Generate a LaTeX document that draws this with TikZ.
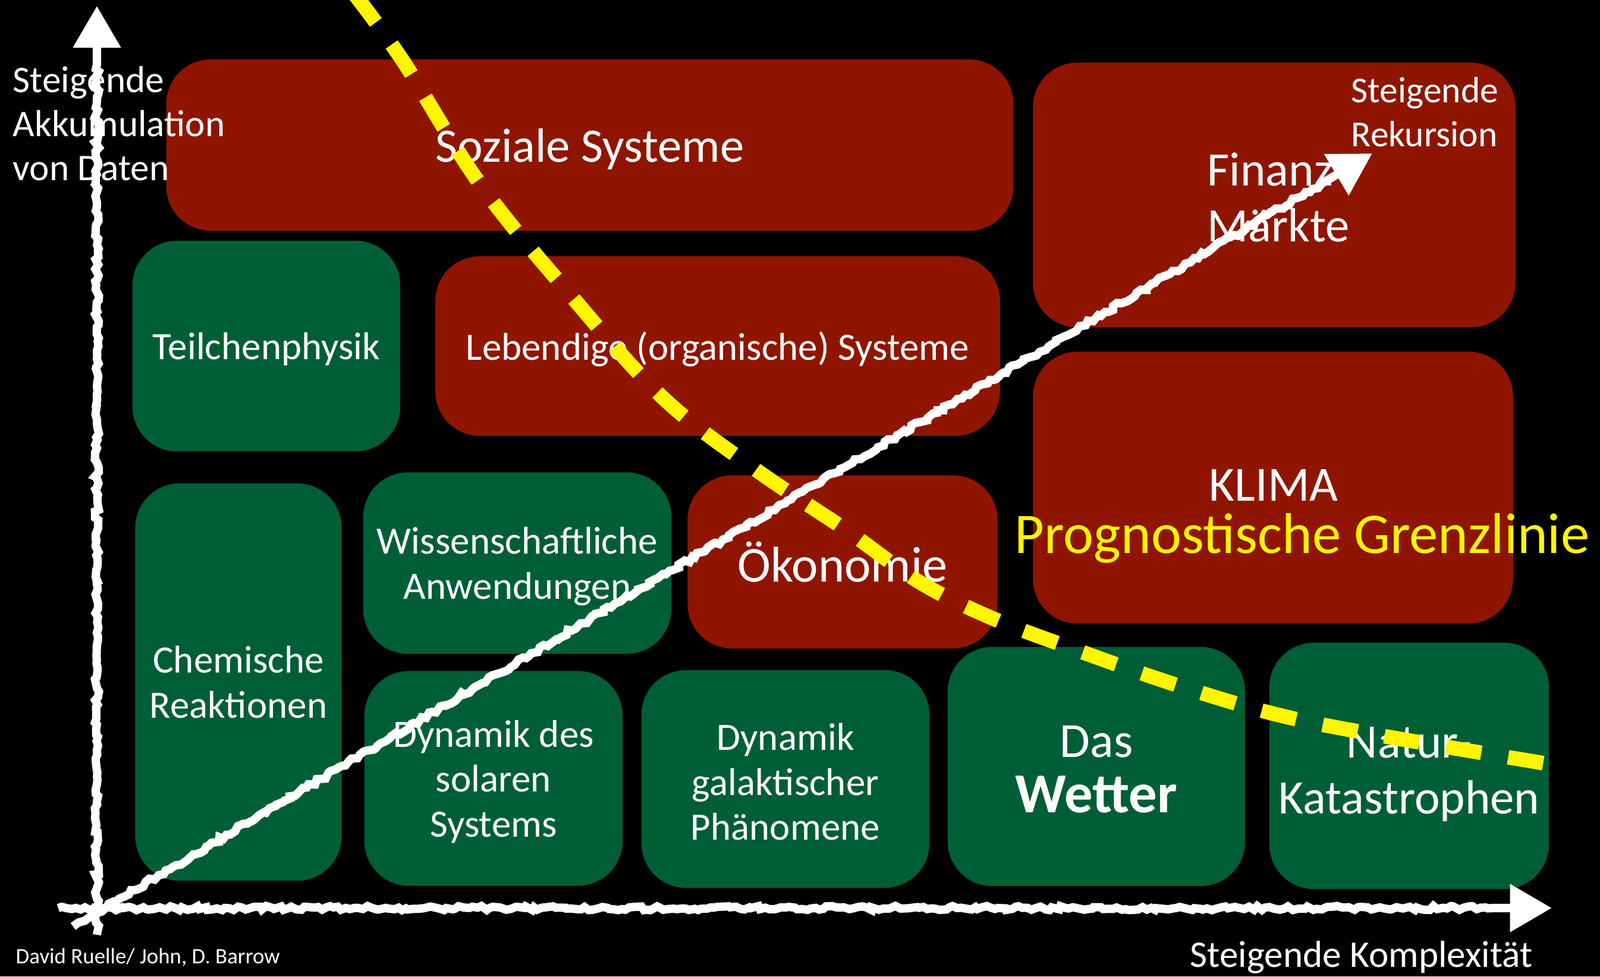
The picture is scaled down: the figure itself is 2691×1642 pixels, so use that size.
\documentclass[tikz,border=0pt]{standalone}
\usepackage{fontspec}
\setmainfont{Carlito}
\usetikzlibrary{arrows.meta,decorations.pathmorphing}
\definecolor{rotbox}{RGB}{143,21,0}
\definecolor{gruenbox}{RGB}{0,94,54}
\definecolor{gelb}{RGB}{255,245,0}
\newcommand{\oben}[1]{\rule{0pt}{#1}}
\begin{document}
\begin{tikzpicture}[x=0.01cm, y=-0.01cm,
    box/.style={rectangle, rounded corners=0.75cm, inner sep=0pt, text=white, align=center,
        text depth=0pt, font=\fontsize{18.5}{21.5}\selectfont},
    rot/.style={box, fill=rotbox},
    gruen/.style={box, fill=gruenbox},
    gross/.style={font=\fontsize{23.5}{26.5}\selectfont},
    etikett/.style={text=white, inner sep=0pt, align=left, font=\fontsize{18}{21}\selectfont},
    kreide/.style={draw=white, line width=4pt, decorate,
        decoration={random steps, segment length=2pt, amplitude=1pt, post length=28pt}},
    spitze/.style={-{Triangle[width=22pt, length=20pt]}}]
    \fill[black] (0,0) rectangle (2691,1642);
    \useasboundingbox (0,0) rectangle (2691,1642);
    \clip (0,0) rectangle (2691,1642);

    % Obere Reihe
    \node (soziale) at (992,244) [rot, minimum width=14.24cm, minimum height=2.88cm,
        font=\fontsize{23}{26}\selectfont] {Soziale Systeme};
    \node (finanz) at (2143,328) [rot, minimum width=8.11cm, minimum height=4.45cm] {};

    % Mittlere Reihe
    \node (teilchen) at (448,582) [gruen, minimum width=4.5cm, minimum height=3.54cm] {Teilchenphysik};
    \node (lebendig) at (1207,582) [rot, minimum width=9.49cm, minimum height=3.02cm] {Lebendige (organische) Systeme};
    \node (klima) at (2141,820) [rot, minimum width=8.07cm, minimum height=4.57cm] {};
    \node (chemie) at (401,1147) [gruen, minimum width=3.47cm, minimum height=6.68cm] {Chemische\\Reaktionen};
    \node (wissen) at (870,947) [gruen, minimum width=5.18cm, minimum height=3.05cm] {Wissenschaftliche\\Anwendungen};
    \node (oekonomie) at (1417,945) [rot, minimum width=5.21cm, minimum height=2.91cm,
        font=\fontsize{24}{26.5}\selectfont] {Ökonomie};

    % Untere Reihe
    \node (solar) at (830,1309) [gruen, minimum width=4.34cm, minimum height=3.61cm] {Dynamik des\\solaren\\Systems};
    \node (galaxie) at (1321,1310) [gruen, minimum width=4.84cm, minimum height=3.66cm] {\oben{15.5pt}Dynamik\\galaktischer\\Phänomene};
    \node (wetter) at (1844,1289) [gruen, gross, minimum width=5cm, minimum height=4.02cm]
        {\oben{17.5pt}Das\\{\fontsize{27}{30}\selectfont\bfseries Wetter}};
    \node (natur) at (2370,1288) [gruen, minimum width=4.7cm, minimum height=4.14cm,
        font=\fontsize{23}{26.5}\selectfont] {\oben{19pt}Natur-\\Katastrophen};

    % Texte in den Kästen
    \node (maerkte) at (2030,332) [etikett, anchor=west, font=\fontsize{23}{26.5}\selectfont] {Finanz-\\Märkte};
    \node (rekursion) at (2272,188) [etikett, anchor=west, font=\fontsize{17.5}{21}\selectfont] {Steigende\\Rekursion};
    \node (klimatext) at (2142,816) [etikett, gross] {KLIMA};
    \node (grenze) at (2190,905) [etikett, text=gelb, font=\fontsize{27.5}{29}\selectfont] {Prognostische Grenzlinie};

    % Achsen
    \coordinate (Yfuss) at (163,1572);
    \coordinate (Ytip) at (163,10);
    \coordinate (Xfuss) at (98,1527);
    \coordinate (Xtip) at (2610,1527);
    \coordinate (Dfuss) at (123,1558);
    \coordinate (Dtip) at (2308,258);
    \node (ylabel) at (21,208) [etikett, anchor=west] {Steigende\\Akkumulation\\von Daten};
    \node (xlabel) at (2001,1610) [etikett, anchor=west] {Steigende Komplexität};
    \node (quelle) at (26,1610) [etikett, anchor=west, font=\fontsize{10.5}{12}\selectfont] {David Ruelle/ John, D. Barrow};

    % Grenzlinie
    \draw[gelb, line width=7pt, dash pattern=on 17pt off 13pt]
        plot[smooth, tension=0.6] coordinates {(596,-10) (678,103) (807,309) (961,498) (1115,669)
        (1270,789) (1424,892) (1545,978) (1665,1038) (1802,1090) (1973,1150) (2145,1201)
        (2317,1236) (2600,1284)};

    \draw[kreide, spitze] (Yfuss) -- (Ytip);
    \draw[kreide, spitze] (Xfuss) -- (Xtip);
    \draw[kreide, spitze] (Dfuss) -- (Dtip);
\end{tikzpicture}
\end{document}
